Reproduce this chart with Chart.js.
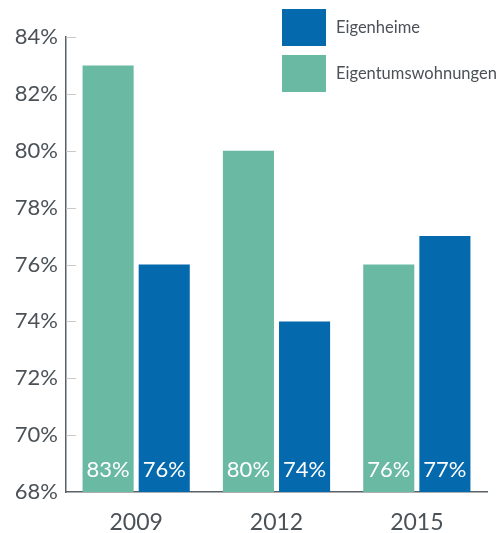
<!DOCTYPE html>
<html>
<head>
<meta charset="utf-8">
<script src="https://cdn.jsdelivr.net/npm/chart.js@4"></script>
<style>
  html, body { margin: 0; padding: 0; background: #fff; }
  #wrap { width: 503px; height: 533px; }
</style>
</head>
<body>
<div id="wrap"><canvas id="canvas" width="503" height="533"></canvas></div>
<script>
//****DATA****//

var years = ['2009', '2012', '2015'];
var wohnungen = [83, 80, 76];
var heime = [76, 74, 77];
var yMin = 68;
var yMax = 84;

var green = '#6ab9a3';
var blue = '#0569ad';
var textGrey = '#4b5257';
var fontName = 'Lato, "Open Sans", sans-serif';

//****PLUGINS****//

// small grey tick marks that point into the plot
var innerTicks = {
  id: 'innerTicks',
  beforeDatasetsDraw: function (chart) {
    var ctx = chart.ctx;
    var y = chart.scales.y;
    var left = chart.chartArea.left;
    ctx.save();
    ctx.strokeStyle = '#c9c9c9';
    ctx.lineWidth = 1;
    for (var v = yMin + 2; v <= yMax; v += 2) {
      var py = Math.round(y.getPixelForValue(v)) + 0.5;
      ctx.beginPath();
      ctx.moveTo(left, py);
      ctx.lineTo(left + 10, py);
      ctx.stroke();
    }
    ctx.restore();
  }
};

// white value labels at the foot of each bar
var barValues = {
  id: 'barValues',
  afterDatasetsDraw: function (chart) {
    var ctx = chart.ctx;
    var bottom = chart.chartArea.bottom;
    ctx.save();
    ctx.fillStyle = '#ffffff';
    ctx.font = '22px ' + fontName;
    ctx.textAlign = 'center';
    ctx.textBaseline = 'middle';
    chart.data.datasets.forEach(function (ds, i) {
      chart.getDatasetMeta(i).data.forEach(function (bar, j) {
        ctx.fillText(ds.data[j] + '%', bar.x, bottom - 22);
      });
    });
    ctx.restore();
  }
};

// legend with big square swatches, drawn over the top right of the plot
var boxLegend = {
  id: 'boxLegend',
  afterDraw: function (chart) {
    var ctx = chart.ctx;
    var items = [
      { label: 'Eigenheime', color: blue },
      { label: 'Eigentumswohnungen', color: green }
    ];
    ctx.save();
    ctx.font = '16.5px ' + fontName;
    ctx.textBaseline = 'middle';
    ctx.textAlign = 'left';
    items.forEach(function (item, i) {
      var top = 9 + i * 46;
      ctx.fillStyle = item.color;
      ctx.fillRect(282, top, 44, 37);
      ctx.fillStyle = textGrey;
      ctx.fillText(item.label, 336, top + 19);
    });
    ctx.restore();
  }
};

//****CHART****//

var ctx = document.getElementById('canvas').getContext('2d');

var chart = new Chart(ctx, {
  type: 'bar',
  data: {
    labels: years,
    datasets: [
      {
        label: 'Eigentumswohnungen',
        data: wohnungen,
        backgroundColor: green,
        categoryPercentage: 0.8,
        barPercentage: 0.91
      },
      {
        label: 'Eigenheime',
        data: heime,
        backgroundColor: blue,
        categoryPercentage: 0.8,
        barPercentage: 0.91
      }
    ]
  },
  options: {
    responsive: false,
    animation: false,
    layout: { padding: { top: 37, right: 16, left: 0, bottom: 0 } },
    plugins: {
      legend: { display: false },
      tooltip: { enabled: false }
    },
    scales: {
      x: {
        grid: { display: false, drawTicks: false },
        border: { color: '#5a6166', width: 1.5 },
        ticks: {
          color: textGrey,
          padding: 17,
          font: { family: fontName, size: 23 }
        },
        afterFit: function (scale) { scale.height = 41; }
      },
      y: {
        min: yMin,
        max: yMax,
        grid: { display: false, drawTicks: false },
        border: { color: '#5a6166', width: 1.5 },
        ticks: {
          stepSize: 2,
          color: textGrey,
          padding: 8,
          font: { family: fontName, size: 22 },
          callback: function (v) { return v + '%'; }
        },
        afterFit: function (scale) { scale.width = 66; }
      }
    }
  },
  plugins: [innerTicks, barValues, boxLegend]
});
</script>
</body>
</html>
